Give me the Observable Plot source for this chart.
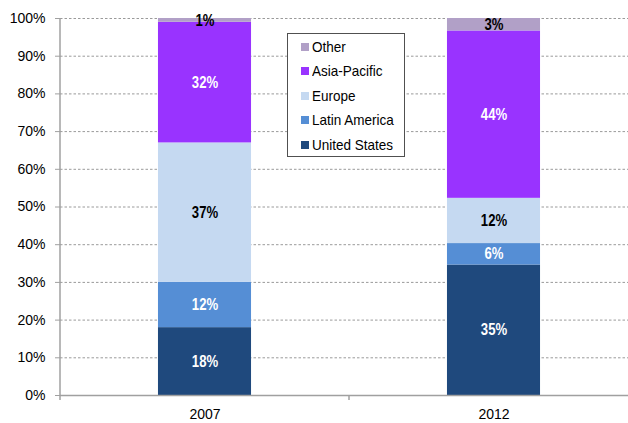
<!DOCTYPE html>
<html><head><meta charset="utf-8">
<script src="https://cdn.jsdelivr.net/npm/d3@7"></script>
<script src="https://cdn.jsdelivr.net/npm/@observablehq/plot@0.6"></script>
<style>
body{margin:0;overflow:hidden;background:#fff;}
#wrap{position:relative;width:628px;height:423px;overflow:hidden;}
#wrap svg{position:absolute;left:0;top:0;max-width:none !important;}
.legend{position:absolute;left:287px;top:33px;width:118px;height:124px;border:1px solid #505050;background:#fff;
  font-family:"Liberation Sans",Arial,sans-serif;font-size:15px;color:#000;box-sizing:border-box;}
.legend .item{position:absolute;left:13px;height:18px;line-height:18px;white-space:nowrap;}
.legend .sw{position:absolute;left:0;top:5px;width:8px;height:8px;}
.legend .lbl{position:absolute;left:11px;top:0;transform:scaleX(0.9);transform-origin:0 50%;}
</style></head>
<body><div id="wrap"></div>
<script>
const years = ["2007", "2012"];
const regions = ["United States", "Latin America", "Europe", "Asia-Pacific", "Other"];
const regionColors = ["#1F497D", "#558ED5", "#C5D9F1", "#9933FF", "#B1A0C7"];
const darkText = ["Europe", "Other"];
const share2007 = [18, 12, 37, 32, 1];
const share2012 = [34.6, 5.7, 12.0, 44.4, 3.3];
const yTicks = [0, 10, 20, 30, 40, 50, 60, 70, 80, 90, 100];
const legendOrder = ["Other", "Asia-Pacific", "Europe", "Latin America", "United States"];

const shares = [share2007, share2012];
const data = [];
years.forEach((yr, i) => regions.forEach((r, j) => data.push({year: yr, region: r, value: shares[i][j]})));

const W = 638, H = 423, mL = 60, mR = 0, mT = 18, mB = 28;
const font = '"Liberation Sans",Arial,sans-serif';
const lab = d => Math.round(d.value) + "%";

const chart = Plot.plot({
  width: W, height: H,
  marginLeft: mL, marginRight: mR, marginTop: mT, marginBottom: mB,
  style: {fontFamily: font, fontSize: "14px", color: "#000", background: "transparent", overflow: "visible", maxWidth: "none"},
  x: {domain: years, paddingInner: 0.678, paddingOuter: 0.339, round: false, label: null},
  y: {domain: [0, 100], label: null},
  color: {domain: regions, range: regionColors},
  marks: [
    Plot.ruleY(yTicks.filter(d => d > 0), {stroke: "#9a9a9a", strokeDasharray: "2.5,2", strokeWidth: 1}),
    Plot.barY(data, Plot.stackY({x: "year", y: "value", fill: "region"})),
    Plot.text(data, Plot.filter(d => !darkText.includes(d.region), Plot.stackY({x: "year", y: "value", text: lab, fill: "white", fontWeight: "bold", fontSize: 16}))),
    Plot.text(data, Plot.filter(d => darkText.includes(d.region), Plot.stackY({x: "year", y: "value", text: lab, fill: "black", fontWeight: "bold", fontSize: 16}))),
    Plot.ruleY([0], {stroke: "#a0a0a0", strokeWidth: 1.5}),
    Plot.axisY({ticks: yTicks, tickFormat: d => d + "%", tickSize: 5, tickPadding: 10, stroke: "#a0a0a0", fontSize: 14, label: null}),
    Plot.axisX({tickSize: 0, tickPadding: 14, fontSize: 14, label: null})
  ]
});
chart.style.maxWidth = "none";
document.getElementById("wrap").appendChild(chart);

// narrow the bold value labels (reference uses a condensed face)
d3.select(chart).selectAll('g[aria-label="text"] text').each(function() {
  const w = this.getComputedTextLength();
  this.setAttribute("textLength", (w * 0.82).toFixed(2));
  this.setAttribute("lengthAdjust", "spacingAndGlyphs");
});

// y axis line and category-boundary tick using scales
const xs = chart.scale("x"), ys = chart.scale("y");
const svg = d3.select(chart);
const axX = xs.range[0];
svg.append("line").attr("x1", axX).attr("x2", axX).attr("y1", ys.apply(100)).attr("y2", ys.apply(0) + 5).attr("stroke", "#a0a0a0").attr("stroke-width", 1.5);
const boundary = xs.apply("2007") + xs.bandwidth + (xs.step - xs.bandwidth) / 2;
svg.append("line").attr("x1", boundary).attr("x2", boundary).attr("y1", ys.apply(0)).attr("y2", ys.apply(0) + 5).attr("stroke", "#a0a0a0").attr("stroke-width", 1.5);

// legend
const lg = document.createElement("div");
lg.className = "legend";
legendOrder.forEach((r, i) => {
  const it = document.createElement("div");
  it.className = "item";
  it.style.top = (4 + i * 24.4) + "px";
  const sw = document.createElement("span");
  sw.className = "sw";
  sw.style.background = regionColors[regions.indexOf(r)];
  const tx = document.createElement("span");
  tx.className = "lbl";
  tx.textContent = r;
  it.appendChild(sw);
  it.appendChild(tx);
  lg.appendChild(it);
});
document.getElementById("wrap").appendChild(lg);
</script>
</body></html>
